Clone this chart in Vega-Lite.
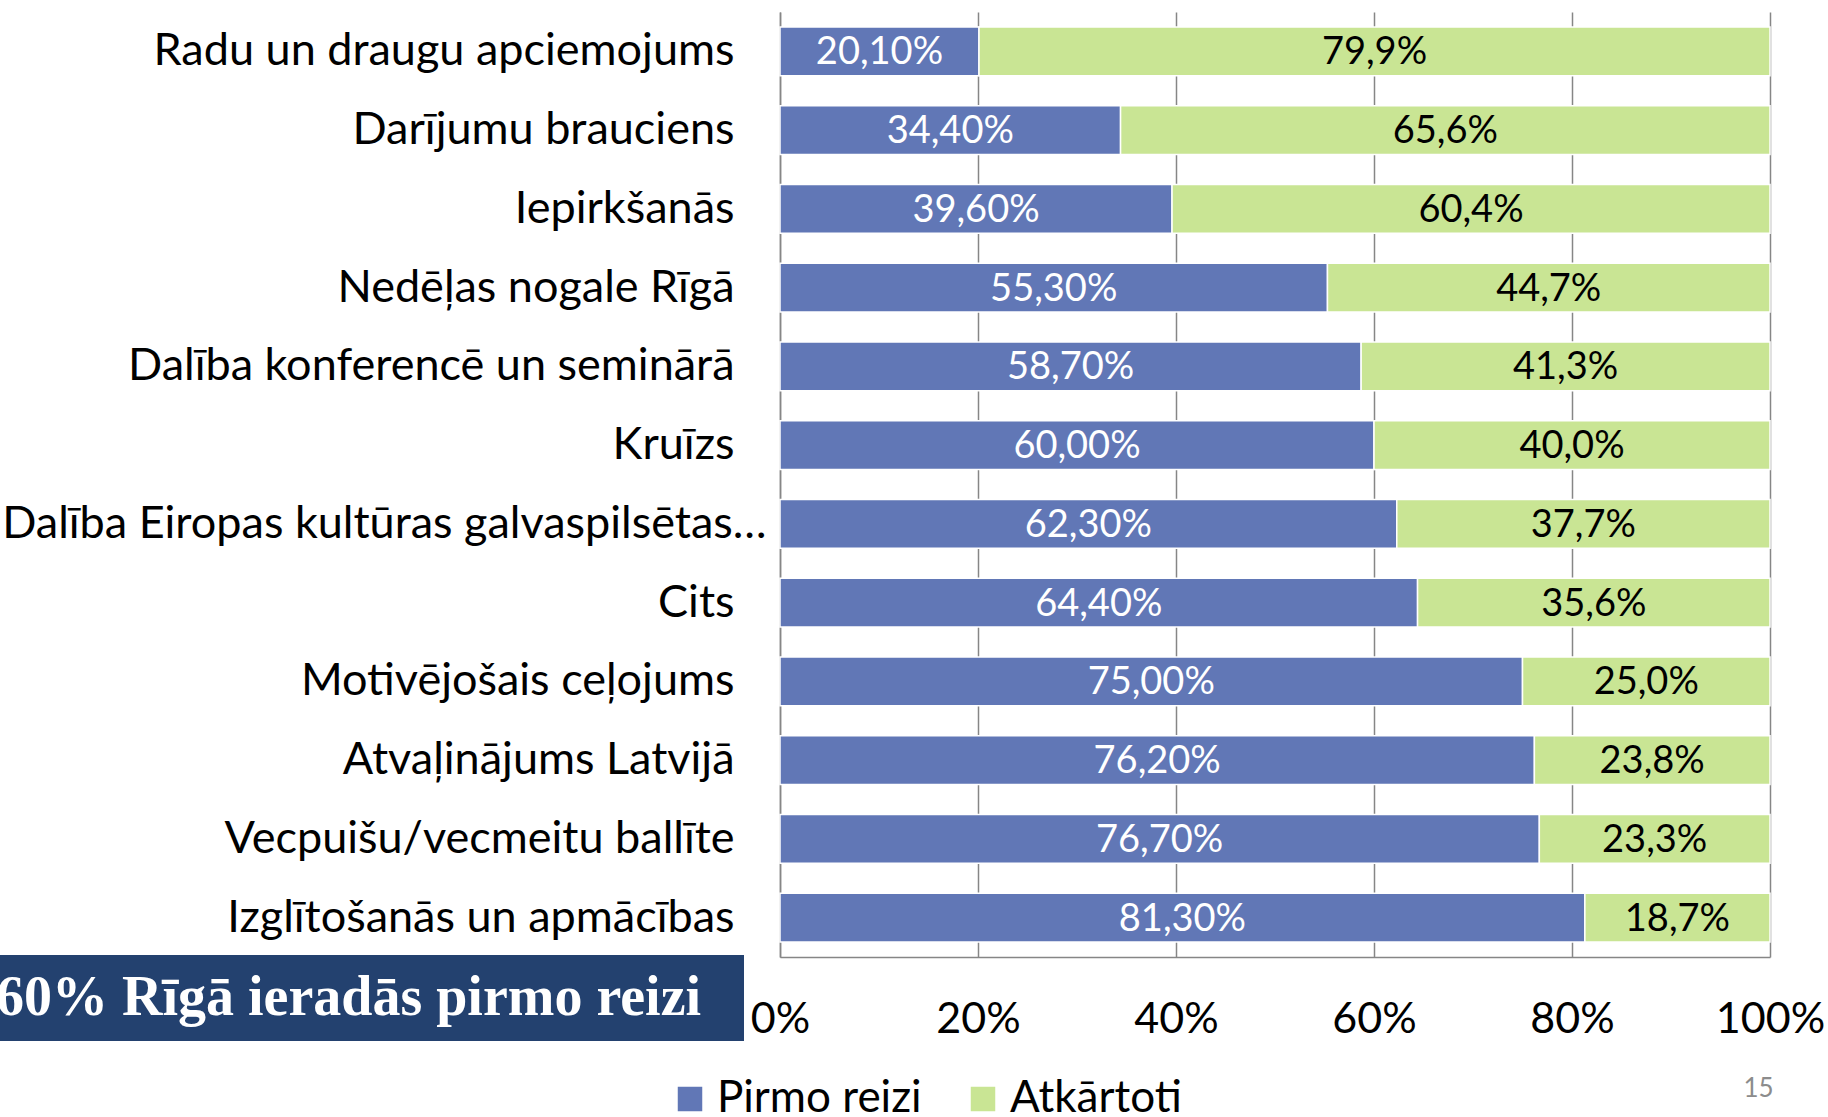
{
  "$schema": "https://vega.github.io/schema/vega-lite/v6.json",
  "width": 990,
  "height": 945,
  "autosize": {"type": "none"},
  "padding": {"left": 780, "top": 12, "right": 58, "bottom": 160},
  "background": "white",
  "title": {"text": "15", "orient": "bottom", "anchor": "end", "fontSize": 26, "color": "#8C8C8C", "font": "Lato", "fontWeight": "normal", "offset": -2, "dy": -43, "dx": -51},
  "config": {
    "view": {"stroke": null},
    "locale": {"number": {"decimal": ",", "thousands": "\u00a0", "grouping": [3], "currency": ["", " €"]}}
  },
  "layer": [
    {
      "data": {"values": [
        {"cat": "Radu un draugu apciemojums", "series": "Pirmo reizi", "value": 0.201},
        {"cat": "Radu un draugu apciemojums", "series": "Atkārtoti", "value": 0.799},
        {"cat": "Darījumu brauciens", "series": "Pirmo reizi", "value": 0.344},
        {"cat": "Darījumu brauciens", "series": "Atkārtoti", "value": 0.656},
        {"cat": "Iepirkšanās", "series": "Pirmo reizi", "value": 0.396},
        {"cat": "Iepirkšanās", "series": "Atkārtoti", "value": 0.604},
        {"cat": "Nedēļas nogale Rīgā", "series": "Pirmo reizi", "value": 0.553},
        {"cat": "Nedēļas nogale Rīgā", "series": "Atkārtoti", "value": 0.447},
        {"cat": "Dalība konferencē un seminārā", "series": "Pirmo reizi", "value": 0.587},
        {"cat": "Dalība konferencē un seminārā", "series": "Atkārtoti", "value": 0.413},
        {"cat": "Kruīzs", "series": "Pirmo reizi", "value": 0.600},
        {"cat": "Kruīzs", "series": "Atkārtoti", "value": 0.400},
        {"cat": "Dalība Eiropas kultūras galvaspilsētas…", "series": "Pirmo reizi", "value": 0.623},
        {"cat": "Dalība Eiropas kultūras galvaspilsētas…", "series": "Atkārtoti", "value": 0.377},
        {"cat": "Cits", "series": "Pirmo reizi", "value": 0.644},
        {"cat": "Cits", "series": "Atkārtoti", "value": 0.356},
        {"cat": "Motivējošais ceļojums", "series": "Pirmo reizi", "value": 0.750},
        {"cat": "Motivējošais ceļojums", "series": "Atkārtoti", "value": 0.250},
        {"cat": "Atvaļinājums Latvijā", "series": "Pirmo reizi", "value": 0.762},
        {"cat": "Atvaļinājums Latvijā", "series": "Atkārtoti", "value": 0.238},
        {"cat": "Vecpuišu/vecmeitu ballīte", "series": "Pirmo reizi", "value": 0.767},
        {"cat": "Vecpuišu/vecmeitu ballīte", "series": "Atkārtoti", "value": 0.233},
        {"cat": "Izglītošanās un apmācības", "series": "Pirmo reizi", "value": 0.813},
        {"cat": "Izglītošanās un apmācības", "series": "Atkārtoti", "value": 0.187}
      ]},
      "encoding": {
        "y": {
          "field": "cat", "type": "nominal",
          "sort": ["Radu un draugu apciemojums", "Darījumu brauciens", "Iepirkšanās", "Nedēļas nogale Rīgā", "Dalība konferencē un seminārā", "Kruīzs", "Dalība Eiropas kultūras galvaspilsētas…", "Cits", "Motivējošais ceļojums", "Atvaļinājums Latvijā", "Vecpuišu/vecmeitu ballīte", "Izglītošanās un apmācības"],
          "scale": {"paddingInner": 0.38, "paddingOuter": 0.19},
          "axis": {
            "title": null, "domainColor": "#868686", "domainWidth": 1.5, "ticks": false, "grid": false,
            "labelFontSize": 45, "labelFont": "Lato", "labelColor": "black", "labelLimit": 900,
            "labelPadding": {"condition": {"test": "indexof(datum.label, 'Eiropas') >= 0", "value": 14}, "value": 46}
          }
        },
        "order": {"field": "series", "sort": "descending"}
      },
      "layer": [
        {
          "mark": {"type": "bar", "stroke": "white", "strokeWidth": 1.5},
          "encoding": {
            "x": {
              "field": "value", "type": "quantitative", "stack": "zero",
              "scale": {"domain": [0, 1], "nice": false},
              "axis": {
                "title": null, "format": ".0%", "values": [0, 0.2, 0.4, 0.6, 0.8, 1],
                "grid": true, "gridColor": "#868686", "gridWidth": 1.5,
                "domainColor": "#868686", "domainWidth": 1.5, "ticks": false,
                "labelFontSize": 43, "labelFont": "Lato", "labelColor": "black", "labelPadding": 41, "labelFlush": false
              }
            },
            "color": {
              "field": "series", "type": "nominal",
              "scale": {"domain": ["Pirmo reizi", "Atkārtoti"], "range": ["#6177B6", "#C9E594"]},
              "legend": {
                "orient": "none", "legendX": -112, "legendY": 1065, "direction": "horizontal", "title": null,
                "symbolType": "square", "symbolSize": 600, "symbolStrokeWidth": 0,
                "labelFontSize": 44, "labelFont": "Lato", "labelColor": "black", "labelOffset": 5,
                "columnPadding": 39, "padding": 0, "labelLimit": 400
              }
            }
          }
        },
        {
          "mark": {"type": "text", "fontSize": 38, "font": "Lato", "dy": 2},
          "encoding": {
            "x": {"field": "value", "type": "quantitative", "stack": "zero", "bandPosition": 0.5},
            "detail": {"field": "series", "type": "nominal"},
            "color": {"condition": {"test": "datum.series === 'Pirmo reizi'", "value": "white"}, "value": "black"},
            "text": {
              "condition": {"test": "datum.series === 'Pirmo reizi'", "field": "value", "type": "quantitative", "format": ".2%"},
              "field": "value", "type": "quantitative", "format": ".1%"
            }
          }
        }
      ]
    },
    {
      "data": {"values": [{"note": "60% Rīgā ieradās pirmo reizi"}]},
      "mark": {"type": "point", "opacity": 0, "size": 0},
      "encoding": {
        "shape": {
          "field": "note", "type": "nominal",
          "legend": {
            "orient": "none", "legendX": -855, "legendY": 943,
            "title": "\u00a0", "titleOrient": "right", "titlePadding": 28, "titleFontSize": 56, "titleColor": "#23416F",
            "fillColor": "#23416F", "padding": 15,
            "symbolSize": 0, "symbolOpacity": 0, "symbolStrokeWidth": 0, "labelOffset": 0,
            "labelColor": "white", "labelFont": "Liberation Serif", "labelFontWeight": "bold", "labelFontSize": 56, "labelLimit": 2000
          }
        }
      }
    }
  ]
}
